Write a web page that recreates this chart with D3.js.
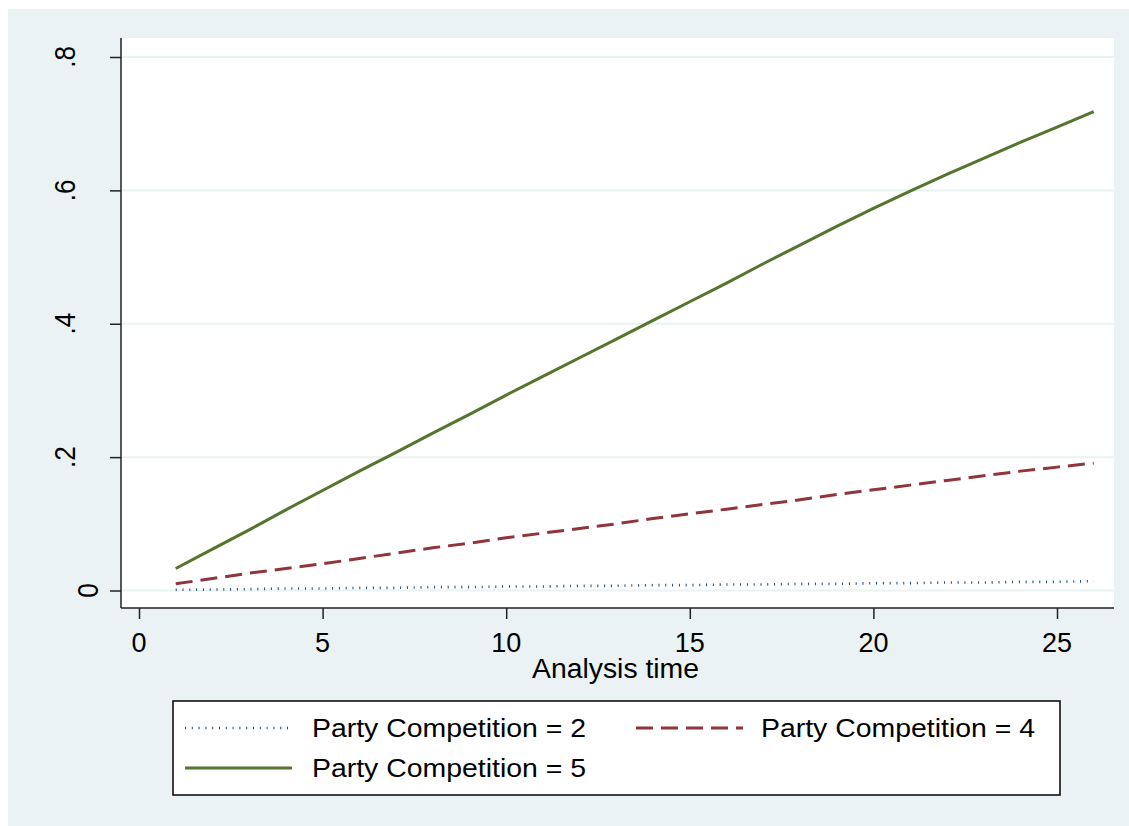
<!DOCTYPE html>
<html>
<head>
<meta charset="utf-8">
<script src="https://cdn.jsdelivr.net/npm/d3@7"></script>
<style>
  html, body { margin: 0; padding: 0; background: #ffffff; }
  svg { display: block; font-family: "Liberation Sans", Arial, Helvetica, sans-serif; }
</style>
</head>
<body>
<svg id="chart" width="1129" height="826"></svg>
<script>
// ---- data ----
const times = [1,2,3,4,5,6,7,8,9,10,11,12,13,14,15,16,17,18,19,20,21,22,23,24,25,26];
const pc2 = [0.001,0.0015,0.002,0.003,0.003,0.004,0.004,0.005,0.005,0.006,0.006,0.007,0.007,0.008,0.008,0.009,0.009,0.010,0.010,0.011,0.011,0.012,0.012,0.013,0.013,0.014];
const pc4 = [0.010,0.018,0.026,0.033,0.040,0.048,0.056,0.064,0.071,0.079,0.086,0.093,0.100,0.108,0.115,0.122,0.129,0.136,0.144,0.151,0.158,0.165,0.172,0.179,0.185,0.191];
const pc5 = [0.033,0.062,0.091,0.121,0.150,0.179,0.207,0.236,0.264,0.293,0.321,0.349,0.377,0.405,0.433,0.461,0.490,0.518,0.546,0.573,0.599,0.624,0.648,0.672,0.695,0.718];
const seriesNames = ["Party Competition = 2", "Party Competition = 4", "Party Competition = 5"];
const xTicks = [0,5,10,15,20,25];
const yTicks = [0,0.2,0.4,0.6,0.8];
const yTickLabels = ["0",".2",".4",".6",".8"];
const xTitle = "Analysis time";

// ---- layout ----
const svg = d3.select("#chart");
const W = 1129, H = 826;
const plot = {left: 121, right: 1114, top: 38, bottom: 608};
const bg = "#eaf2f3";
const colors = ["#1a476f", "#90353b", "#55752f"];
const dashes = ["1,5.8", "17,8", null];
const widths = [2.6, 3, 3];

svg.append("rect").attr("x", 0).attr("y", 0).attr("width", W).attr("height", H).attr("fill", "#ffffff");
svg.append("rect").attr("x", 8).attr("y", 9).attr("width", W - 8).attr("height", H - 9).attr("fill", bg);
svg.append("rect").attr("x", plot.left).attr("y", plot.top)
   .attr("width", plot.right - plot.left).attr("height", plot.bottom - plot.top).attr("fill", "#ffffff");

const x = d3.scaleLinear().domain([0, 25]).range([139, 1057]);
const y = d3.scaleLinear().domain([0, 0.8]).range([590.5, 57]);

// gridlines
svg.append("g").selectAll("line").data(yTicks).join("line")
  .attr("x1", plot.left).attr("x2", plot.right)
  .attr("y1", d => y(d)).attr("y2", d => y(d))
  .attr("stroke", bg).attr("stroke-width", 2);

// series
const allSeries = [pc2, pc4, pc5];
const line = d3.line().x(d => x(d[0])).y(d => y(d[1]));
allSeries.forEach((vals, i) => {
  const pts = times.map((t, j) => [t, vals[j]]);
  const p = svg.append("path").datum(pts)
    .attr("d", line).attr("fill", "none")
    .attr("stroke", colors[i]).attr("stroke-width", widths[i])
    .attr("stroke-linejoin", "round");
  if (dashes[i]) p.attr("stroke-dasharray", dashes[i]);
});

// y axis
const yAxis = d3.axisLeft(y).tickValues(yTicks).tickSize(11).tickFormat("");
const gy = svg.append("g").attr("transform", `translate(${plot.left},0)`).call(yAxis);
gy.select(".domain").remove();
gy.selectAll(".tick line").attr("stroke", "#222").attr("stroke-width", 1.5);
svg.append("g").selectAll("text").data(yTicks).join("text")
  .attr("transform", (d, i) => `translate(${yTickLabels[i] === "0" ? 98 : 75},${y(d)}) scale(1.16,1) rotate(-90)`)
  .attr("text-anchor", "middle")
  .attr("font-size", 26).attr("fill", "#000")
  .text((d, i) => yTickLabels[i]);

// x axis
const xAxis = d3.axisBottom(x).tickValues(xTicks).tickSize(11).tickFormat("");
const gx = svg.append("g").attr("transform", `translate(0,${plot.bottom})`).call(xAxis);
gx.select(".domain").remove();
gx.selectAll(".tick line").attr("stroke", "#222").attr("stroke-width", 1.5);
svg.append("g").selectAll("text").data(xTicks).join("text")
  .attr("x", d => x(d)).attr("y", 652)
  .attr("text-anchor", "middle").attr("font-size", 27).attr("fill", "#000")
  .text(d => d);

// axis lines
svg.append("line").attr("x1", plot.left).attr("x2", plot.left).attr("y1", plot.top).attr("y2", plot.bottom)
  .attr("stroke", "#222").attr("stroke-width", 1.5);
svg.append("line").attr("x1", plot.left).attr("x2", plot.right).attr("y1", plot.bottom).attr("y2", plot.bottom)
  .attr("stroke", "#222").attr("stroke-width", 1.5);

// x title
svg.append("text").attr("x", 615.5).attr("y", 678).attr("text-anchor", "middle")
  .attr("font-size", 27).attr("fill", "#000")
  .attr("textLength", 167).attr("lengthAdjust", "spacingAndGlyphs")
  .text(xTitle);

// legend
const lg = svg.append("g");
lg.append("rect").attr("x", 173).attr("y", 701).attr("width", 887).attr("height", 94)
  .attr("fill", "#ffffff").attr("stroke", "#111").attr("stroke-width", 1.6);
const legendPos = [
  {sx: 185, tx: 312, y: 728},
  {sx: 636, tx: 761, y: 728},
  {sx: 185, tx: 312, y: 768}
];
seriesNames.forEach((name, i) => {
  const p = legendPos[i];
  const l = lg.append("line").attr("x1", p.sx).attr("x2", p.sx + 107)
    .attr("y1", p.y).attr("y2", p.y)
    .attr("stroke", colors[i]).attr("stroke-width", widths[i]);
  if (dashes[i]) l.attr("stroke-dasharray", dashes[i]);
  lg.append("text").attr("x", p.tx).attr("y", p.y + 9)
    .attr("font-size", 26).attr("fill", "#000")
    .attr("textLength", 274).attr("lengthAdjust", "spacingAndGlyphs")
    .text(name);
});
</script>
</body>
</html>
